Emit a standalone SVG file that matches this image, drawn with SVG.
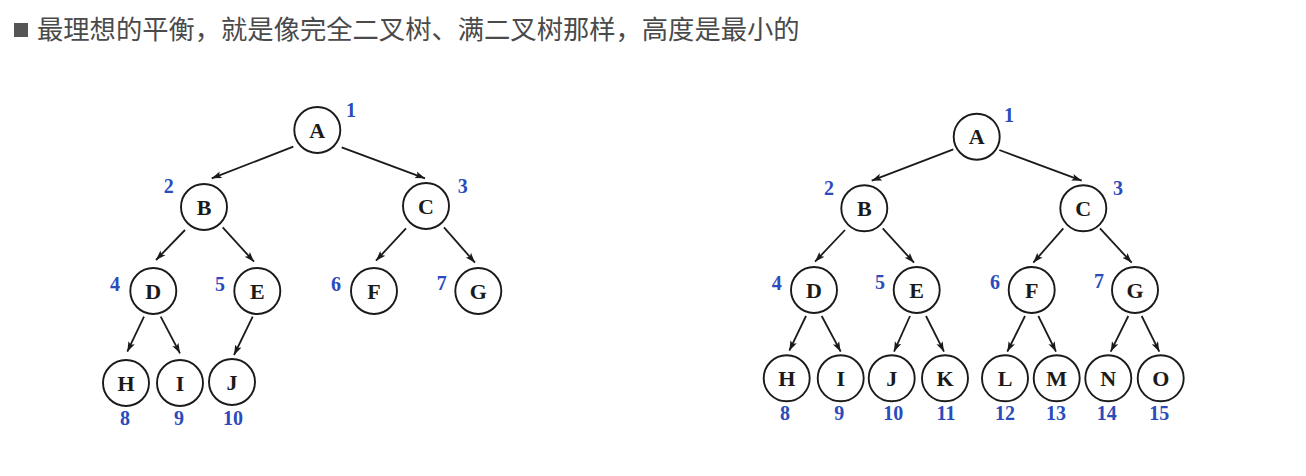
<svg xmlns="http://www.w3.org/2000/svg" width="1306" height="476" viewBox="0 0 1306 476">
<defs>
<marker id="arr" markerUnits="userSpaceOnUse" markerWidth="11" markerHeight="9" refX="10" refY="4.5" orient="auto">
<path d="M0,1 L10,4.5 L0,8 L2.2,4.5 z" fill="#1a1a1a"/>
</marker>
<style>
.n circle{fill:#fff;stroke:#1a1a1a;stroke-width:1.9}
.n text.l{font-family:"Liberation Serif","DejaVu Serif",serif;font-weight:bold;font-size:22px;fill:#1a1a1a;text-anchor:middle}
.n text.k{font-family:"Liberation Serif","DejaVu Serif",serif;font-weight:bold;font-size:20px;fill:#2b4bbd;text-anchor:middle}
#edges line{stroke:#1a1a1a;stroke-width:1.8;marker-end:url(#arr)}
.title{font-family:"Noto Sans CJK SC","Noto Sans",sans-serif;font-size:26.3px;fill:#4a4a4a}
</style>
</defs>
<rect width="1306" height="476" fill="#fff"/>
<g id="title">
<rect x="14" y="23" width="14" height="14" fill="#555"/>
<text class="title" x="37" y="39">最理想的平衡，就是像完全二叉树、满二叉树那样，高度是最小的</text>
</g>
<g id="edges">
<line x1="293.3" y1="146.7" x2="211.7" y2="178.3"/>
<line x1="341.7" y1="147.3" x2="425" y2="178.3"/>
<line x1="185" y1="230" x2="156" y2="260"/>
<line x1="222.7" y1="227.3" x2="254" y2="261.7"/>
<line x1="406" y1="228.3" x2="376" y2="260.7"/>
<line x1="444" y1="227.3" x2="475" y2="262.7"/>
<line x1="144" y1="316.7" x2="127.3" y2="351.7"/>
<line x1="160.7" y1="316.7" x2="180" y2="353.3"/>
<line x1="252.7" y1="316.7" x2="234" y2="355"/>
<line x1="953.3" y1="149.3" x2="871.7" y2="180.7"/>
<line x1="999.3" y1="150" x2="1081.7" y2="180.7"/>
<line x1="845" y1="230" x2="815" y2="261.7"/>
<line x1="882.7" y1="228.3" x2="914" y2="262.7"/>
<line x1="1063.3" y1="228.3" x2="1033.3" y2="262.7"/>
<line x1="1100" y1="228.3" x2="1131.7" y2="262.7"/>
<line x1="806" y1="316" x2="789.3" y2="350.7"/>
<line x1="821.7" y1="316" x2="840.7" y2="351.7"/>
<line x1="910" y1="316" x2="894" y2="351.7"/>
<line x1="926" y1="316" x2="944" y2="351.7"/>
<line x1="1025" y1="316" x2="1007.3" y2="351.7"/>
<line x1="1038.3" y1="316" x2="1056" y2="351.7"/>
<line x1="1128.3" y1="316" x2="1110.7" y2="351.7"/>
<line x1="1141.7" y1="316" x2="1159.3" y2="351.7"/>
</g>
<g id="L-A" class="n"><circle cx="317.3" cy="130" r="23"/><text class="l" x="317.3" y="137.5">A</text><text class="k" x="351" y="116.5">1</text></g>
<g id="L-B" class="n"><circle cx="204" cy="207" r="23"/><text class="l" x="204" y="214.5">B</text><text class="k" x="168.7" y="192.5">2</text></g>
<g id="L-C" class="n"><circle cx="426" cy="206" r="23"/><text class="l" x="426" y="213.5">C</text><text class="k" x="462.7" y="192.5">3</text></g>
<g id="L-D" class="n"><circle cx="153.3" cy="291" r="23"/><text class="l" x="153.3" y="298.5">D</text><text class="k" x="115" y="290.5">4</text></g>
<g id="L-E" class="n"><circle cx="257.3" cy="291" r="23"/><text class="l" x="257.3" y="298.5">E</text><text class="k" x="220" y="290.5">5</text></g>
<g id="L-F" class="n"><circle cx="374" cy="291" r="23"/><text class="l" x="374" y="298.5">F</text><text class="k" x="336" y="290.5">6</text></g>
<g id="L-G" class="n"><circle cx="478.3" cy="291" r="23"/><text class="l" x="478.3" y="298.5">G</text><text class="k" x="441.7" y="289.5">7</text></g>
<g id="L-H" class="n"><circle cx="126" cy="383" r="23"/><text class="l" x="126" y="390.5">H</text><text class="k" x="125" y="425">8</text></g>
<g id="L-I" class="n"><circle cx="180" cy="383" r="23"/><text class="l" x="180" y="390.5">I</text><text class="k" x="179" y="425">9</text></g>
<g id="L-J" class="n"><circle cx="232" cy="382" r="23"/><text class="l" x="232" y="389.5">J</text><text class="k" x="233" y="425">10</text></g>
<g id="R-A" class="n"><circle cx="976.7" cy="136.7" r="23"/><text class="l" x="976.7" y="144.2">A</text><text class="k" x="1009" y="121.5">1</text></g>
<g id="R-B" class="n"><circle cx="864.3" cy="208.3" r="23"/><text class="l" x="864.3" y="215.8">B</text><text class="k" x="829" y="194.5">2</text></g>
<g id="R-C" class="n"><circle cx="1083.3" cy="208.3" r="23"/><text class="l" x="1083.3" y="215.8">C</text><text class="k" x="1118" y="194.5">3</text></g>
<g id="R-D" class="n"><circle cx="814" cy="290" r="23"/><text class="l" x="814" y="297.5">D</text><text class="k" x="776.7" y="289.5">4</text></g>
<g id="R-E" class="n"><circle cx="916.7" cy="290" r="23"/><text class="l" x="916.7" y="297.5">E</text><text class="k" x="880" y="289">5</text></g>
<g id="R-F" class="n"><circle cx="1031.7" cy="290" r="23"/><text class="l" x="1031.7" y="297.5">F</text><text class="k" x="995" y="289">6</text></g>
<g id="R-G" class="n"><circle cx="1135" cy="290" r="23"/><text class="l" x="1135" y="297.5">G</text><text class="k" x="1099" y="288">7</text></g>
<g id="R-H" class="n"><circle cx="786.7" cy="378.3" r="23"/><text class="l" x="786.7" y="385.8">H</text><text class="k" x="785" y="420">8</text></g>
<g id="R-I" class="n"><circle cx="840.7" cy="378.3" r="23"/><text class="l" x="840.7" y="385.8">I</text><text class="k" x="839.3" y="420">9</text></g>
<g id="R-J" class="n"><circle cx="891.7" cy="378.3" r="23"/><text class="l" x="891.7" y="385.8">J</text><text class="k" x="893.3" y="420">10</text></g>
<g id="R-K" class="n"><circle cx="945" cy="378.3" r="23"/><text class="l" x="945" y="385.8">K</text><text class="k" x="946" y="420">11</text></g>
<g id="R-L" class="n"><circle cx="1005" cy="378.3" r="23"/><text class="l" x="1005" y="385.8">L</text><text class="k" x="1005" y="420">12</text></g>
<g id="R-M" class="n"><circle cx="1056.7" cy="378.3" r="23"/><text class="l" x="1056.7" y="385.8">M</text><text class="k" x="1056" y="420">13</text></g>
<g id="R-N" class="n"><circle cx="1108.3" cy="378.3" r="23"/><text class="l" x="1108.3" y="385.8">N</text><text class="k" x="1106.7" y="420">14</text></g>
<g id="R-O" class="n"><circle cx="1160.7" cy="378.3" r="23"/><text class="l" x="1160.7" y="385.8">O</text><text class="k" x="1159.3" y="420">15</text></g>
</svg>
